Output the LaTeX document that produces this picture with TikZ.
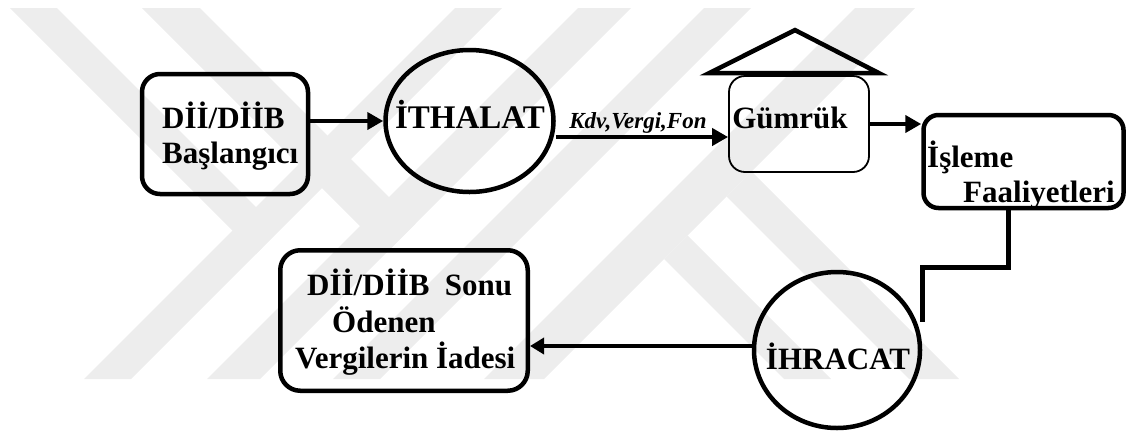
\documentclass[tikz,border=0pt]{standalone}
\usepackage{fontspec}
\setmainfont{Liberation Serif}
\usetikzlibrary{arrows.meta,shapes.geometric}
\definecolor{wm}{gray}{0.93}
\begin{document}
\begin{tikzpicture}[x=1pt,y=-1pt,
  wmark/.style={fill=wm,draw=none},
  rbox/.style={draw,line width=4.5pt,rounded corners=18pt,inner sep=0pt},
  gbox/.style={draw,line width=1.8pt,rounded corners=16pt,inner sep=0pt},
  oval/.style={draw,ellipse,line width=4.5pt,inner sep=0pt},
  txt/.style={inner sep=0pt,font=\fontsize{31}{36}\selectfont\bfseries,anchor=base west},
  ctxt/.style={inner sep=0pt,font=\fontsize{31}{36}\selectfont\bfseries,anchor=base},
  lbl/.style={inner sep=1pt,font=\fontsize{23}{26}\selectfont\bfseries\itshape},
  arr/.style={line width=4.5pt,-{Triangle[length=16pt,width=17pt]}},
  thinarr/.style={line width=3.5pt,-{Triangle[length=14pt,width=16pt]}},
  conn/.style={line width=4.5pt,line join=miter},
  roof/.style={draw,line width=4.5pt,line join=miter}
]
\useasboundingbox (0,0) rectangle (1129,432);
% watermark
\fill[wmark] (10,8) -- (57,8) -- (279,230) -- (256,254) -- cycle;
\fill[wmark] (142,8) -- (200,8) -- (415.5,223.5) -- (386.5,252.5) -- cycle;
\fill[wmark] (455,8) -- (502,8) -- (131,379) -- (84,379) -- cycle;
\fill[wmark] (578,8) -- (631,8) -- (260,379) -- (207,379) -- cycle;
\fill[wmark] (704,8) -- (751,8) -- (380,379) -- (333,379) -- cycle;
\fill[wmark] (855,8) -- (915,8) -- (544,379) -- (484,379) -- cycle;
\fill[wmark] (664,259) -- (687.5,235.5) -- (831,379) -- (784,379) -- cycle;
\fill[wmark] (726.5,196.5) -- (751.5,171.5) -- (959,379) -- (909,379) -- cycle;

% shapes
\node[rbox, minimum width=166pt, minimum height=120pt] (b1) at (225,134) {};
\node[oval, minimum width=168pt, minimum height=142pt] (ith) at (469.5,121) {};
\node[gbox, minimum width=140pt, minimum height=96pt] (gum) at (799,124) {};
\draw[roof] ([xshift=-19pt,yshift=2pt]gum.north west) -- ([xshift=-4pt,yshift=45pt]gum.north) -- ([xshift=9pt,yshift=2pt]gum.north east) -- cycle;
\node[rbox, rounded corners=15pt, minimum width=200pt, minimum height=93pt] (isl) at (1023.5,161.5) {};
\node[oval, minimum width=166pt, minimum height=156pt] (ihr) at (837,350) {};
\node[rbox, rounded corners=20pt, minimum width=247.5pt, minimum height=140.5pt] (b2) at (404,320.5) {};

% connectors
\draw[arr] (b1.east |- ith.west) -- (ith.west);
\coordinate (k1) at ([yshift=-16pt]ith.east);
\draw[arr] (k1) -- (k1 -| gum.west) node[lbl, midway, above, xshift=-4pt] (kdv) {Kdv,Vergi,Fon};
\draw[arr] (gum.east) -- (gum.east -| isl.west);
\draw[conn] ([xshift=-15pt]isl.south) -- ++(0,57) -| ([yshift=28pt]ihr.east);
\coordinate (k2) at ([yshift=4pt]ihr.west);
\draw[thinarr] (k2) -- (k2 -| b2.east);

% texts
\node[txt] (t1) at (162,128) {Dİİ/DİİB};
\node[txt] (t2) at (162,163) {Başlangıcı};
\node[ctxt, font=\fontsize{33}{38}\selectfont\bfseries] (t3) at (470,128) {İTHALAT};
\node[ctxt] (t4) at (790,128) {Gümrük};
\node[txt] (t5) at (927,167) {İşleme};
\node[txt] (t6) at (963,202) {Faaliyetleri};
\node[ctxt] (t7) at (838,369) {İHRACAT};
\node[txt] (t8) at (307,295) {Dİİ/DİİB\ \ Sonu};
\node[txt] (t9) at (332,332) {Ödenen};
\node[txt] (t10) at (295,368) {Vergilerin İadesi};
\end{tikzpicture}
\end{document}
